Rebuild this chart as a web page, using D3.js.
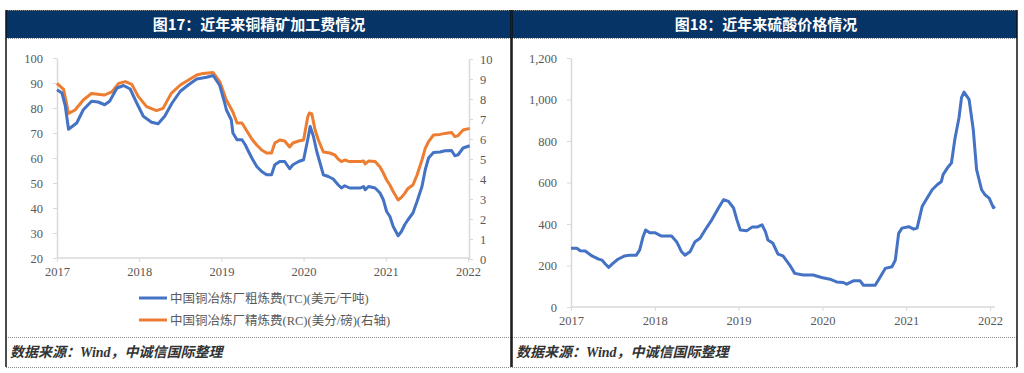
<!DOCTYPE html>
<html>
<head>
<meta charset="utf-8">
<script src="https://cdn.jsdelivr.net/npm/d3@7"></script>
<style>
  html, body { margin: 0; padding: 0; background: #fff; }
  svg { display: block; }
</style>
</head>
<body>
<div id="chart"></div>
<script>
// Figure 17: copper concentrate TC (left axis) and RC (right axis)
var tcYears = [2017.00, 2017.06, 2017.10, 2017.14, 2017.24, 2017.32, 2017.42, 2017.50, 2017.58, 2017.64,
  2017.73, 2017.81, 2017.89, 2017.97, 2018.05, 2018.15, 2018.23, 2018.31, 2018.40, 2018.50,
  2018.60, 2018.70, 2018.82, 2018.90, 2018.98, 2019.04, 2019.06, 2019.12, 2019.14, 2019.19,
  2019.25, 2019.29, 2019.33, 2019.37, 2019.43, 2019.49, 2019.55, 2019.61, 2019.65, 2019.71,
  2019.77, 2019.83, 2019.87, 2019.94, 2020.00, 2020.05, 2020.08, 2020.12, 2020.16, 2020.20,
  2020.24, 2020.30, 2020.36, 2020.42, 2020.46, 2020.50, 2020.56, 2020.69, 2020.73, 2020.75,
  2020.79, 2020.87, 2020.93, 2020.97, 2021.01, 2021.05, 2021.09, 2021.15, 2021.19, 2021.23,
  2021.27, 2021.33, 2021.38, 2021.44, 2021.48, 2021.52, 2021.58, 2021.66, 2021.72, 2021.80,
  2021.84, 2021.88, 2021.94, 2022.02];
var tcValues = [87.3, 86, 81, 71.5, 74, 79.3, 82.7, 82.4, 81.3, 82.7,
  88, 89, 87.6, 82, 76.7, 74.3, 73.7, 76.7, 82, 86.7,
  89.3, 91.6, 92.3, 93, 89, 82, 79.3, 75.3, 70, 67.3,
  67.3, 65.3, 62.6, 60, 56.6, 54.6, 53.3, 53.3, 57.3, 58.6,
  58.6, 55.7, 57.3, 58.6, 59.3, 67.3, 72.6, 68.6, 62.6, 58,
  53.3, 52.6, 51.6, 49.3, 48, 48.9, 48, 48, 48.6, 47.3,
  48.6, 48, 46, 43.3, 38.6, 36.6, 32.6, 28.9, 30.6, 33.3,
  35.3, 38, 42.6, 48.6, 55.3, 60, 62.2, 62.4, 62.9, 63,
  60.9, 61.3, 64, 64.9];

var rcYears = [2017.00, 2017.08, 2017.14, 2017.22, 2017.32, 2017.42, 2017.52, 2017.58, 2017.67, 2017.75,
  2017.83, 2017.91, 2017.99, 2018.09, 2018.21, 2018.29, 2018.39, 2018.50, 2018.60, 2018.70,
  2018.78, 2018.90, 2018.98, 2019.06, 2019.08, 2019.14, 2019.19, 2019.25, 2019.31, 2019.37,
  2019.43, 2019.49, 2019.55, 2019.61, 2019.65, 2019.71, 2019.77, 2019.83, 2019.87, 2019.94,
  2020.00, 2020.05, 2020.07, 2020.10, 2020.14, 2020.18, 2020.24, 2020.32, 2020.38, 2020.42,
  2020.46, 2020.50, 2020.56, 2020.69, 2020.73, 2020.75, 2020.79, 2020.87, 2020.93, 2020.97,
  2021.01, 2021.05, 2021.09, 2021.15, 2021.19, 2021.23, 2021.27, 2021.33, 2021.38, 2021.44,
  2021.48, 2021.52, 2021.58, 2021.66, 2021.72, 2021.80, 2021.84, 2021.88, 2021.94, 2022.02];
var rcValues = [8.78, 8.48, 7.28, 7.45, 7.95, 8.28, 8.23, 8.2, 8.37, 8.78,
  8.87, 8.73, 8.12, 7.62, 7.42, 7.53, 8.28, 8.7, 8.95, 9.2,
  9.28, 9.32, 8.87, 7.95, 7.8, 7.35, 6.8, 6.8, 6.4, 6.0,
  5.7, 5.45, 5.3, 5.3, 5.8, 5.95, 5.9, 5.6, 5.8, 5.9,
  5.95, 7.1, 7.3, 7.25, 6.45, 5.95, 5.35, 5.3, 5.2, 5.0,
  4.87, 4.95, 4.87, 4.87, 4.9, 4.75, 4.9, 4.87, 4.6, 4.3,
  3.95, 3.7, 3.37, 2.95, 3.08, 3.28, 3.53, 3.7, 4.2, 4.95,
  5.53, 5.87, 6.2, 6.23, 6.28, 6.33, 6.12, 6.17, 6.45, 6.53];

// Figure 18: sulphuric acid price
var acidYears = [2017.00, 2017.07, 2017.11, 2017.17, 2017.25, 2017.33, 2017.37, 2017.41, 2017.45, 2017.50,
  2017.56, 2017.64, 2017.70, 2017.78, 2017.82, 2017.86, 2017.89, 2017.94, 2018.00, 2018.08,
  2018.20, 2018.26, 2018.32, 2018.36, 2018.42, 2018.48, 2018.54, 2018.60, 2018.68, 2018.76,
  2018.82, 2018.88, 2018.94, 2018.98, 2019.02, 2019.10, 2019.16, 2019.22, 2019.28, 2019.32,
  2019.35, 2019.41, 2019.47, 2019.53, 2019.61, 2019.67, 2019.77, 2019.89, 2019.99, 2020.09,
  2020.17, 2020.25, 2020.29, 2020.37, 2020.45, 2020.49, 2020.63, 2020.69, 2020.75, 2020.83,
  2020.87, 2020.91, 2020.95, 2021.03, 2021.09, 2021.13, 2021.19, 2021.25, 2021.31, 2021.37,
  2021.42, 2021.44, 2021.50, 2021.54, 2021.58, 2021.63, 2021.66, 2021.69, 2021.75, 2021.80,
  2021.84, 2021.90, 2021.94, 2021.99, 2022.04, 2022.06];
var acidValues = [283, 283, 271, 270, 246, 231, 226, 207, 191, 210,
  230, 246, 250, 250, 275, 339, 371, 358, 358, 342,
  342, 315, 266, 250, 266, 315, 331, 371, 420, 477,
  517, 509, 477, 420, 371, 368, 385, 385, 396, 363,
  323, 307, 255, 246, 202, 162, 154, 154, 142, 134,
  121, 118, 110, 126, 126, 105, 105, 145, 186, 194,
  226, 355, 380, 387, 375, 380, 484, 525, 565, 589,
  605, 638, 675, 694, 807, 912, 1009, 1036, 1001, 856,
  662, 565, 541, 525, 479, 484];

var yearTicks  = [2017, 2018, 2019, 2020, 2021, 2022];
var tcTicks    = [20, 30, 40, 50, 60, 70, 80, 90, 100];
var rcTicks    = [0, 1, 2, 3, 4, 5, 6, 7, 8, 9, 10];
var acidTicks  = [0, 200, 400, 600, 800, 1000, 1200];

var legendLabels = ['中国铜冶炼厂粗炼费(TC)(美元/干吨)', '中国铜冶炼厂精炼费(RC)(美分/磅)(右轴)'];

var COLORS = {
  blue:   '#4472c4',
  orange: '#ed7d31',
  navy:   '#063466',
  axis:   '#d9d9d9',
  text:   '#595959',
  border: '#111',
  dots:   '#8c8c8c'
};
var NUM_FONT = '"Liberation Serif", "Times New Roman", serif';
var CJK_FONT = '"Liberation Serif", "Noto Sans CJK SC", sans-serif';

var svg = d3.select('#chart').append('svg')
  .attr('width', 1024)
  .attr('height', 373);

// ─── Panel frames ───────────────────────────────────────────────────────
function panel(x0, x1, title, titleX) {
  var g = svg.append('g');
  g.append('rect')
    .attr('x', x0).attr('y', 10)
    .attr('width', x1 - x0).attr('height', 28)
    .attr('fill', COLORS.navy);
  g.append('text')
    .attr('x', titleX).attr('y', 30)
    .attr('text-anchor', 'middle')
    .attr('fill', '#fff')
    .style('font-family', '"Noto Sans CJK SC", sans-serif')
    .style('font-weight', 'bold')
    .style('font-size', '15px')
    .text(title);
  [10, 38, 337, 367].forEach(function (y) {
    g.append('line')
      .attr('x1', x0).attr('x2', x1)
      .attr('y1', y + 0.5).attr('y2', y + 0.5)
      .attr('stroke', COLORS.dots)
      .attr('stroke-dasharray', '1,1');
  });
  [x0, x1].forEach(function (x) {
    g.append('line')
      .attr('x1', x).attr('x2', x)
      .attr('y1', 10).attr('y2', 367)
      .attr('stroke', COLORS.border)
      .attr('stroke-width', 1.5);
  });
  g.append('text')
    .attr('x', x0 + 4).attr('y', 357)
    .attr('fill', '#333')
    .style('font-family', CJK_FONT)
    .style('font-style', 'italic')
    .style('font-weight', 'bold')
    .style('font-size', '14px')
    .text('数据来源：Wind，中诚信国际整理');
}

panel(6, 511, '图17：近年来铜精矿加工费情况', 259);
panel(512, 1017, '图18：近年来硫酸价格情况', 766);

function styleAxis(s) {
  s.select('.domain').attr('stroke', COLORS.axis).attr('stroke-width', 1.5);
  s.selectAll('line').attr('stroke', COLORS.axis);
  s.selectAll('text')
    .attr('fill', COLORS.text)
    .style('font-family', NUM_FONT)
    .style('font-size', '12.5px');
}

// ─── Figure 17 ──────────────────────────────────────────────────────────
(function () {
  var x  = d3.scaleLinear().domain([2017, 2022]).range([57, 468]);
  var yL = d3.scaleLinear().domain([20, 100]).range([258, 58]);
  var yR = d3.scaleLinear().domain([0, 10]).range([259, 59]);

  svg.append('g')
    .attr('transform', 'translate(57,0)')
    .call(d3.axisLeft(yL).tickValues(tcTicks).tickSize(4).tickPadding(10).tickSizeOuter(0))
    .call(styleAxis);

  svg.append('g')
    .attr('transform', 'translate(469,0)')
    .call(d3.axisRight(yR).tickValues(rcTicks).tickSize(4).tickPadding(7).tickSizeOuter(0))
    .call(styleAxis);

  svg.append('g')
    .attr('transform', 'translate(0,258)')
    .call(d3.axisBottom(x).tickValues(yearTicks).tickFormat(d3.format('d')).tickSize(4).tickPadding(5).tickSizeOuter(0))
    .call(styleAxis)
    .call(function (s) { s.select('.domain').attr('d', 'M57,0H469'); });

  var tc = tcYears.map(function (d, i) { return [d, tcValues[i]]; });
  var rc = rcYears.map(function (d, i) { return [d, rcValues[i]]; });

  svg.append('path')
    .datum(rc)
    .attr('fill', 'none')
    .attr('stroke', COLORS.orange)
    .attr('stroke-width', 3)
    .attr('stroke-linejoin', 'round')
    .attr('d', d3.line().x(function (d) { return x(d[0]); }).y(function (d) { return yR(d[1]); }));

  svg.append('path')
    .datum(tc)
    .attr('fill', 'none')
    .attr('stroke', COLORS.blue)
    .attr('stroke-width', 3)
    .attr('stroke-linejoin', 'round')
    .attr('d', d3.line().x(function (d) { return x(d[0]); }).y(function (d) { return yL(d[1]); }));

  // legend
  var lg = svg.selectAll('g.legend')
    .data([{ label: legendLabels[0], color: COLORS.blue }, { label: legendLabels[1], color: COLORS.orange }])
    .join('g')
    .attr('class', 'legend')
    .attr('transform', function (d, i) { return 'translate(139,' + (298 + i * 22) + ')'; });
  lg.append('line')
    .attr('x1', 0).attr('x2', 28)
    .attr('stroke', function (d) { return d.color; })
    .attr('stroke-width', 3);
  lg.append('text')
    .attr('x', 31).attr('y', 4.5)
    .attr('fill', COLORS.text)
    .style('font-family', CJK_FONT)
    .style('font-size', '12.5px')
    .text(function (d) { return d.label; });
})();

// ─── Figure 18 ──────────────────────────────────────────────────────────
(function () {
  var x = d3.scaleLinear().domain([2017, 2022]).range([571, 990]);
  var y = d3.scaleLinear().domain([0, 1200]).range([307, 58]);

  svg.append('g')
    .attr('transform', 'translate(571,0)')
    .call(d3.axisLeft(y).tickValues(acidTicks).tickFormat(d3.format(',')).tickSize(4).tickPadding(10).tickSizeOuter(0))
    .call(styleAxis);

  svg.append('g')
    .attr('transform', 'translate(0,307)')
    .call(d3.axisBottom(x).tickValues(yearTicks).tickFormat(d3.format('d')).tickSize(4).tickPadding(5).tickSizeOuter(0))
    .call(styleAxis)
    .call(function (s) { s.select('.domain').attr('d', 'M571,0H995'); });

  var acid = acidYears.map(function (d, i) { return [d, acidValues[i]]; });
  svg.append('path')
    .datum(acid)
    .attr('fill', 'none')
    .attr('stroke', COLORS.blue)
    .attr('stroke-width', 3)
    .attr('stroke-linejoin', 'round')
    .attr('d', d3.line().x(function (d) { return x(d[0]); }).y(function (d) { return y(d[1]); }));
})();
</script>
</body>
</html>
